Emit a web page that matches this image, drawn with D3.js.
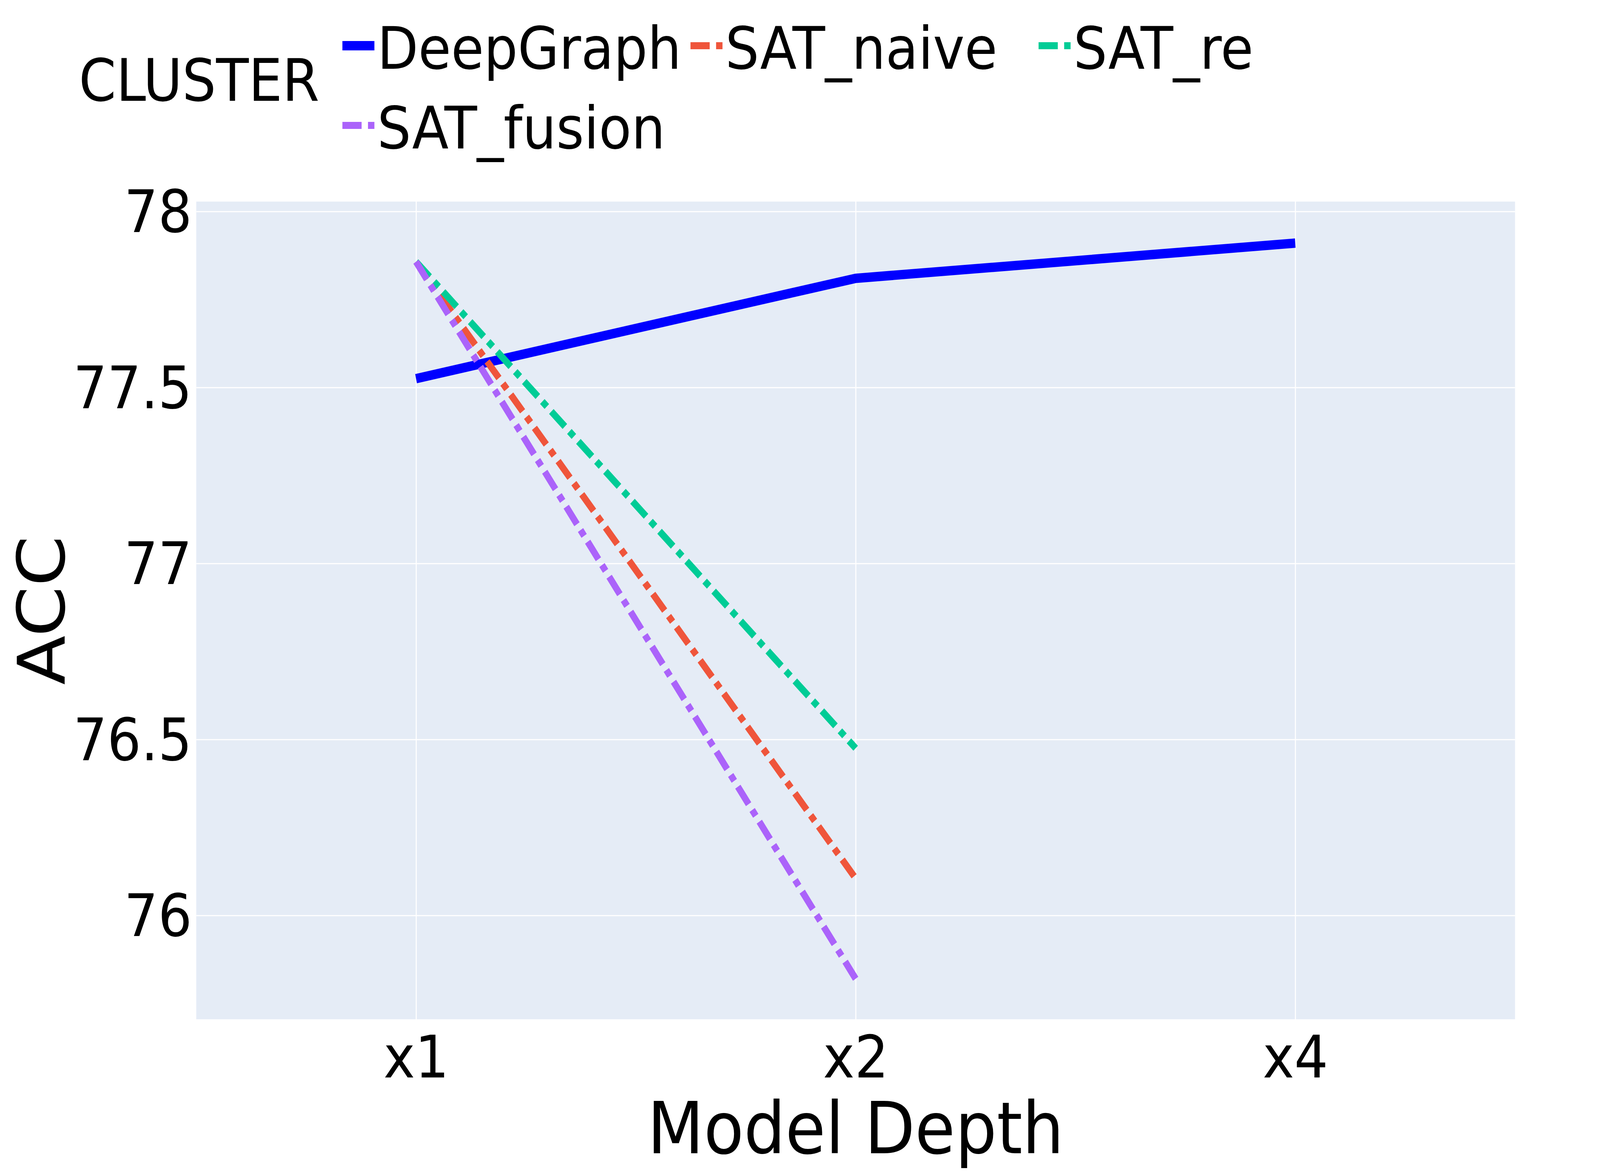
<!DOCTYPE html>
<html>
<head>
<meta charset="utf-8">
<script src="https://cdn.jsdelivr.net/npm/d3@7"></script>
<style>
  html, body { margin: 0; padding: 0; overflow: hidden; background: #fff; }
  text { font-family: "DejaVu Sans", sans-serif; fill: #000; }
</style>
</head>
<body>
<div id="chart"></div>
<script>
// data
var depths = ["x1", "x2", "x4"];
var seriesNames = ["DeepGraph", "SAT_naive", "SAT_re", "SAT_fusion"];
var deepGraph = [77.525, 77.81, 77.91];
var satNaive = [77.857, 76.105];
var satRe = [77.857, 76.475];
var satFusion = [77.857, 75.82];
var yTicks = [76, 76.5, 77, 77.5, 78];
var yDomain = [75.705, 78.028];
var legendTitle = "CLUSTER";
var xTitle = "Model Depth";
var yTitle = "ACC";

// styles per series
var styles = [
  { color: "#0000FF", width: 24, dash: null },
  { color: "#EF553B", width: 18, dash: "54,18,18,18" },
  { color: "#00CC96", width: 18, dash: "54,18,18,18" },
  { color: "#AB63FA", width: 18, dash: "54,18,18,18" }
];

var series = [deepGraph, satNaive, satRe, satFusion].map(function (vals, i) {
  return {
    name: seriesNames[i],
    style: styles[i],
    points: vals.map(function (v, j) { return { x: depths[j], y: v }; })
  };
});

// drawing space is 4500x3000, stretched to whatever the window gives
var svgWidth = 4500;
var svgHeight = 3000;

var margin = { top: 516, right: 239, bottom: 391, left: 552 };
var width = svgWidth - margin.left - margin.right;
var height = svgHeight - margin.top - margin.bottom;

var svg = d3.select("#chart")
  .append("svg")
  .attr("width", window.innerWidth)
  .attr("height", window.innerHeight)
  .attr("viewBox", `0 0 ${svgWidth} ${svgHeight}`)
  .attr("preserveAspectRatio", "none")
  .style("display", "block");

var chartGroup = svg.append("g")
  .attr("transform", `translate(${margin.left}, ${margin.top})`);

// scales
var xScale = d3.scalePoint()
  .domain(depths)
  .range([0, width])
  .padding(0.5);

var yScale = d3.scaleLinear()
  .domain(yDomain)
  .range([height, 0]);

// plot background
chartGroup.append("rect")
  .attr("width", width)
  .attr("height", height)
  .attr("fill", "#E5ECF6");

// gridlines
var yGrid = chartGroup.append("g")
  .call(d3.axisLeft(yScale).tickValues(yTicks).tickSize(-width).tickFormat(""));
yGrid.select(".domain").remove();
yGrid.selectAll("line").attr("stroke", "#fff").attr("stroke-width", 3);

var xGrid = chartGroup.append("g")
  .attr("transform", `translate(0, ${height})`)
  .call(d3.axisBottom(xScale).tickSize(-height).tickFormat(""));
xGrid.select(".domain").remove();
xGrid.selectAll("line").attr("stroke", "#fff").attr("stroke-width", 3);

// axes labels
var leftAxis = chartGroup.append("g")
  .call(d3.axisLeft(yScale).tickValues(yTicks).tickSize(0).tickPadding(12)
    .tickFormat(d3.format("~g")));
leftAxis.select(".domain").remove();
leftAxis.selectAll("text")
  .attr("dy", "0.35em")
  .style("font-size", "150px")
  .style("font-family", "DejaVu Sans");

var bottomAxis = chartGroup.append("g")
  .attr("transform", `translate(0, ${height})`)
  .call(d3.axisBottom(xScale).tickSize(0).tickPadding(43));
bottomAxis.select(".domain").remove();
bottomAxis.selectAll("text")
  .style("font-size", "150px")
  .style("font-family", "DejaVu Sans");

// lines
var line = d3.line()
  .x(d => xScale(d.x))
  .y(d => yScale(d.y));

chartGroup.selectAll(".series")
  .data(series)
  .enter()
  .append("path")
  .attr("class", "series")
  .attr("d", d => line(d.points))
  .attr("fill", "none")
  .attr("stroke", d => d.style.color)
  .attr("stroke-width", d => d.style.width)
  .attr("stroke-dasharray", d => d.style.dash)
  .attr("stroke-linejoin", "round");

// axis titles
svg.append("text")
  .attr("x", margin.left + width / 2)
  .attr("y", 2952)
  .attr("text-anchor", "middle")
  .style("font-size", "184px")
  .text(xTitle);

svg.append("text")
  .attr("transform", `translate(181, ${margin.top + height / 2}) rotate(-90)`)
  .attr("text-anchor", "middle")
  .style("font-size", "185px")
  .text(yTitle);

// legend
svg.append("text")
  .attr("x", 222)
  .attr("y", 258)
  .style("font-size", "150px")
  .text(legendTitle);

var legend = svg.selectAll(".legend-item")
  .data(series)
  .enter()
  .append("g")
  .attr("class", "legend-item")
  .attr("transform", (d, i) => `translate(${948 + (i % 3) * 979}, ${117 + Math.floor(i / 3) * 204})`);

legend.append("line")
  .attr("x1", 15)
  .attr("x2", 105)
  .attr("y1", 0)
  .attr("y2", 0)
  .attr("stroke", d => d.style.color)
  .attr("stroke-width", d => d.style.width)
  .attr("stroke-dasharray", d => d.style.dash);

legend.append("text")
  .attr("x", 113)
  .attr("y", 59)
  .style("font-size", "150px")
  .text(d => d.name);
</script>
</body>
</html>
